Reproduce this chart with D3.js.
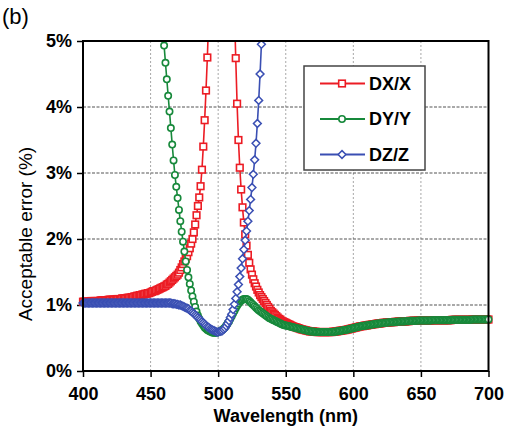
<!DOCTYPE html>
<html lang="en">
<head>
<meta charset="UTF-8">
<title>Acceptable error vs wavelength</title>
<script src="https://d3js.org/d3.v7.min.js"></script>
<style>
    body, html { margin: 0; padding: 0; background: #fff; }
    svg { display: block; font-family: "Liberation Sans", Arial, sans-serif; }
</style>
</head>
<body>
<svg id="chart" width="505" height="431"></svg>
<script>

// tick values
const xTicks = [400, 450, 500, 550, 600, 650, 700];
const yTicks = [0, 1, 2, 3, 4, 5];

const seriesNames = ["DX/X", "DY/Y", "DZ/Z"];

// acceptable error (%), one value per nm from the given start wavelength
// DX/X left branch starts at 400 nm, right branch at 511 nm (in between it is above 5%)
const dxLeftStart = 400;
const dxLeft = [
    1.05,1.05,1.05,1.05,1.05,1.05,1.06,1.06,1.06,1.06,
    1.06,1.06,1.06,1.07,1.07,1.07,1.07,1.07,1.07,1.08,
    1.08,1.08,1.08,1.08,1.08,1.09,1.09,1.09,1.09,1.10,
    1.10,1.10,1.10,1.11,1.11,1.11,1.12,1.12,1.13,1.13,
    1.14,1.14,1.15,1.15,1.16,1.16,1.17,1.17,1.18,1.18,
    1.19,1.20,1.21,1.21,1.22,1.23,1.24,1.25,1.26,1.27,
    1.28,1.29,1.31,1.32,1.34,1.36,1.38,1.40,1.42,1.44,
    1.46,1.49,1.53,1.57,1.62,1.66,1.70,1.74,1.80,1.86,
    1.93,2.00,2.10,2.22,2.36,2.50,2.63,2.80,3.05,3.40,
    3.80,4.25,4.75,5.35
];
const dxRightStart = 511;
const dxRight = [
    6.00,5.50,4.74,4.05,3.50,3.08,2.75,2.48,2.25,2.07,
    1.90,1.76,1.64,1.54,1.46,1.39,1.33,1.28,1.23,1.19,
    1.15,1.12,1.09,1.06,1.03,1.00,0.97,0.94,0.91,0.89,
    0.87,0.85,0.83,0.81,0.79,0.78,0.76,0.75,0.74,0.73,
    0.72,0.71,0.70,0.69,0.68,0.67,0.665,0.66,0.65,0.645,
    0.635,0.63,0.625,0.62,0.615,0.61,0.605,0.60,0.60,0.60,
    0.595,0.595,0.59,0.59,0.59,0.59,0.59,0.59,0.59,0.59,
    0.59,0.59,0.59,0.59,0.595,0.595,0.60,0.60,0.605,0.61,
    0.61,0.615,0.62,0.62,0.625,0.63,0.635,0.64,0.645,0.65,
    0.655,0.66,0.665,0.67,0.675,0.68,0.68,0.685,0.69,0.69,
    0.695,0.70,0.70,0.705,0.71,0.71,0.715,0.72,0.72,0.72,
    0.725,0.73,0.73,0.73,0.735,0.735,0.74,0.74,0.74,0.74,
    0.745,0.745,0.745,0.75,0.75,0.75,0.75,0.75,0.755,0.755,
    0.755,0.76,0.76,0.76,0.76,0.76,0.76,0.765,0.765,0.765,
    0.765,0.765,0.765,0.765,0.765,0.765,0.765,0.77,0.77,0.77,
    0.77,0.77,0.77,0.77,0.77,0.77,0.77,0.77,0.77,0.77,
    0.77,0.77,0.775,0.775,0.775,0.775,0.775,0.775,0.775,0.775,
    0.775,0.775,0.775,0.775,0.775,0.775,0.775,0.78,0.78,0.78,
    0.78,0.78,0.78,0.78,0.78,0.78,0.78,0.78,0.78,0.78
];

// DY/Y is above 5% below 458 nm
const dyStart = 458;
const dyValues = [
    5.45,5.20,4.93,4.67,4.42,4.17,3.93,3.68,3.43,3.19,
    2.97,2.79,2.62,2.44,2.27,2.11,1.96,1.81,1.66,1.53,
    1.42,1.32,1.22,1.13,1.05,0.97,0.90,0.84,0.79,0.75,
    0.72,0.69,0.66,0.64,0.62,0.61,0.60,0.59,0.58,0.58,
    0.58,0.58,0.59,0.60,0.61,0.62,0.64,0.66,0.69,0.72,
    0.75,0.79,0.83,0.87,0.91,0.95,0.99,1.02,1.05,1.07,
    1.08,1.09,1.09,1.09,1.08,1.06,1.04,1.02,1.00,0.98,
    0.96,0.94,0.92,0.905,0.89,0.875,0.86,0.845,0.83,0.815,
    0.80,0.79,0.78,0.77,0.76,0.75,0.74,0.73,0.72,0.71,
    0.70,0.695,0.69,0.685,0.68,0.675,0.67,0.665,0.66,0.655,
    0.65,0.645,0.64,0.635,0.63,0.625,0.62,0.615,0.61,0.605,
    0.60,0.60,0.60,0.595,0.595,0.59,0.59,0.59,0.59,0.59,
    0.59,0.59,0.59,0.59,0.59,0.59,0.59,0.595,0.595,0.60,
    0.60,0.605,0.61,0.61,0.615,0.62,0.62,0.625,0.63,0.635,
    0.64,0.645,0.65,0.655,0.66,0.665,0.67,0.675,0.68,0.68,
    0.685,0.69,0.69,0.695,0.70,0.70,0.705,0.71,0.71,0.715,
    0.72,0.72,0.72,0.725,0.73,0.73,0.73,0.735,0.735,0.74,
    0.74,0.74,0.74,0.745,0.745,0.745,0.75,0.75,0.75,0.75,
    0.75,0.755,0.755,0.755,0.76,0.76,0.76,0.76,0.76,0.76,
    0.765,0.765,0.765,0.765,0.765,0.765,0.765,0.765,0.765,0.765,
    0.77,0.77,0.77,0.77,0.77,0.77,0.77,0.77,0.77,0.77,
    0.77,0.77,0.77,0.77,0.77,0.775,0.775,0.775,0.775,0.775,
    0.775,0.775,0.775,0.775,0.775,0.775,0.775,0.775,0.775,0.775,
    0.78,0.78,0.78,0.78,0.78,0.78,0.78,0.78,0.78,0.78,
    0.78,0.78,0.78
];

// DZ/Z goes above 5% after 533 nm
const dzStart = 400;
const dzValues = [
    1.03,1.03,1.03,1.03,1.03,1.03,1.03,1.03,1.03,1.03,
    1.03,1.03,1.03,1.03,1.03,1.03,1.03,1.03,1.03,1.03,
    1.03,1.03,1.03,1.03,1.03,1.03,1.03,1.03,1.03,1.03,
    1.03,1.03,1.03,1.03,1.03,1.03,1.03,1.03,1.03,1.03,
    1.03,1.03,1.03,1.03,1.03,1.03,1.03,1.03,1.03,1.03,
    1.03,1.03,1.03,1.03,1.03,1.03,1.03,1.03,1.03,1.03,
    1.03,1.03,1.03,1.03,1.03,1.03,
    1.02,1.02,1.02,1.01,1.01,1.00,1.00,0.99,0.98,0.97,
    0.96,0.95,0.94,0.92,0.91,0.89,0.87,0.85,0.83,0.81,
    0.79,0.77,0.75,0.73,0.71,0.69,0.67,0.66,0.64,0.63,
    0.62,0.61,0.60,0.59,0.59,0.60,0.60,0.61,0.63,0.65,
    0.68,0.72,0.76,0.81,0.86,0.93,1.01,1.10,1.20,1.31,
    1.43,1.56,1.70,1.84,1.98,2.12,2.27,2.43,2.60,2.78,
    2.98,3.20,3.45,3.75,4.10,4.50,4.95,5.45
];

const colors = ["#ec1c24", "#17893b", "#3a4fb3"];
const shapes = ["square", "circle", "diamond"];

const toPairs = (start, values) => values.map((v, i) => [start + i, v]);
const series = [
    [toPairs(dxLeftStart, dxLeft), toPairs(dxRightStart, dxRight)],
    [toPairs(dyStart, dyValues)],
    [toPairs(dzStart, dzValues)]
];

const svg = d3.select("#chart");
const W = 505, H = 431;
const margin = {top: 41, right: 16.5, bottom: 60, left: 83};
const plotW = W - margin.left - margin.right;
const plotH = H - margin.top - margin.bottom;

const x = d3.scaleLinear().domain([400, 700]).range([margin.left, margin.left + plotW]);
const y = d3.scaleLinear().domain([0, 5]).range([margin.top + plotH, margin.top]);

// grid
svg.append("g").selectAll("line").data(xTicks.slice(1, -1)).join("line")
    .attr("x1", d => x(d)).attr("x2", d => x(d))
    .attr("y1", y(0)).attr("y2", y(5))
    .attr("stroke", "#a8a8a8").attr("stroke-width", 1).attr("stroke-dasharray", "2,2");
svg.append("g").selectAll("line").data(yTicks.slice(1, -1)).join("line")
    .attr("x1", x(400)).attr("x2", x(700))
    .attr("y1", d => y(d)).attr("y2", d => y(d))
    .attr("stroke", "#555").attr("stroke-width", 1.2).attr("stroke-dasharray", "3,1.5");

// axes
const xAxis = svg.append("g")
    .attr("transform", `translate(0,${y(0)})`)
    .call(d3.axisBottom(x).tickValues(xTicks).tickSize(6).tickPadding(10).tickFormat(d3.format("d")));
const yAxis = svg.append("g")
    .attr("transform", `translate(${x(400)},0)`)
    .call(d3.axisLeft(y).tickValues(yTicks).tickSize(6).tickPadding(5).tickFormat(d => d + "%"));
[xAxis, yAxis].forEach(g => {
    g.select(".domain").remove();
    g.selectAll(".tick line").attr("stroke", "#000").attr("stroke-width", 1.5);
    g.selectAll(".tick text").attr("fill", "#000")
        .style("font-family", "'Liberation Sans', Arial, sans-serif")
        .style("font-size", "18px").style("font-weight", "bold");
});

// clip only at the top/bottom of the plot area
svg.append("clipPath").attr("id", "clip").append("rect")
    .attr("x", 0).attr("y", y(5)).attr("width", W).attr("height", plotH);

function marker(sel, shape, color) {
    if (shape === "square") {
        sel.append("rect").attr("x", -3.3).attr("y", -3.3).attr("width", 6.6).attr("height", 6.6)
            .attr("fill", "#fff").attr("stroke", color).attr("stroke-width", 1.6);
    } else if (shape === "circle") {
        sel.append("circle").attr("r", 3.2)
            .attr("fill", "#fff").attr("stroke", color).attr("stroke-width", 1.6);
    } else {
        sel.append("path").attr("d", "M0,-3.9L3.9,0L0,3.9L-3.9,0Z")
            .attr("fill", "#fff").attr("stroke", color).attr("stroke-width", 1.5);
    }
}

const line = d3.line().x(d => x(d[0])).y(d => y(d[1]));
const plot = svg.append("g").attr("clip-path", "url(#clip)");

series.forEach((segments, i) => {
    const g = plot.append("g");
    segments.forEach(data => {
        g.append("path").datum(data).attr("d", line)
            .attr("fill", "none").attr("stroke", colors[i]).attr("stroke-width", 1.6);
    });
    g.selectAll("g.pt").data(segments.flat()).join("g").attr("class", "pt")
        .attr("transform", d => `translate(${x(d[0])},${y(d[1])})`)
        .each(function() { marker(d3.select(this), shapes[i], colors[i]); });
});

// frame
svg.append("rect").attr("x", x(400)).attr("y", y(5)).attr("width", plotW).attr("height", plotH)
    .attr("fill", "none").attr("stroke", "#000").attr("stroke-width", 2);

// legend
const lg = svg.append("g");
lg.append("rect").attr("x", 304).attr("y", 66).attr("width", 121).attr("height", 104)
    .attr("fill", "#fff").attr("stroke", "#444").attr("stroke-width", 1.5);
seriesNames.forEach((name, i) => {
    const cy = 83.5 + i * 35.5;
    lg.append("line").attr("x1", 320).attr("x2", 365).attr("y1", cy).attr("y2", cy)
        .attr("stroke", colors[i]).attr("stroke-width", 1.8);
    marker(lg.append("g").attr("transform", `translate(342,${cy})`), shapes[i], colors[i]);
    lg.append("text").attr("x", 369).attr("y", cy).attr("dy", "0.35em")
        .style("font-size", "18px").style("font-weight", "bold").text(name);
});

// labels
svg.append("text").attr("x", x(550)).attr("y", 422).attr("text-anchor", "middle")
    .style("font-size", "18px").style("font-weight", "bold").text("Wavelength (nm)");
svg.append("text").attr("transform", "translate(32,234) rotate(-90)").attr("text-anchor", "middle")
    .style("font-size", "19px").text("Acceptable  error (%)");
svg.append("text").attr("x", 2).attr("y", 24).style("font-size", "22px").text("(b)");

</script>
</body>
</html>
